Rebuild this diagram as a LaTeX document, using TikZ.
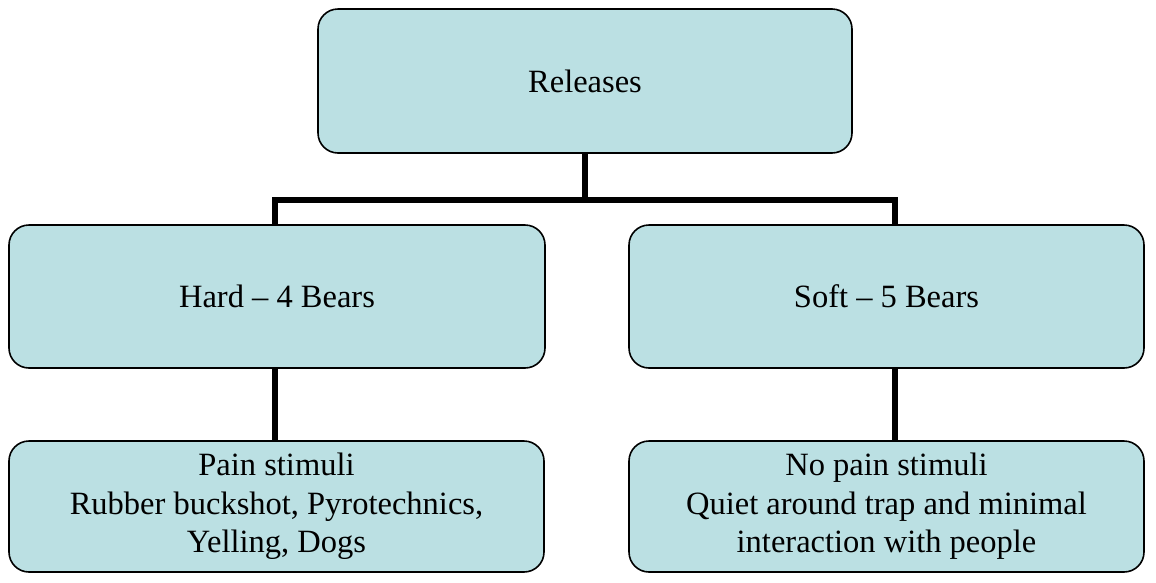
\documentclass[tikz,border=0pt]{standalone}
\usepackage{fontspec}
\setmainfont{Liberation Serif}
\definecolor{boxfill}{RGB}{187,224,227}
\begin{document}
\begin{tikzpicture}[x=1pt,y=-1pt,
  box/.style={draw=black, line width=1.6pt, fill=boxfill, rounded corners=20pt,
    inner sep=0pt, align=center, font=\fontsize{32.5}{38.5}\selectfont},
  conn/.style={draw=black, line width=5.5pt, line join=miter}]
\useasboundingbox (0,0) rectangle (1156,582);
\node[box, minimum width=534pt, minimum height=144pt] (top) at (585,81) {Releases};
\node[box, minimum width=536pt, minimum height=143pt] (hard) at (277,296.5) {Hard -- 4 Bears};
\node[box, minimum width=515pt, minimum height=143pt] (soft) at (886.5,296.5) {Soft -- 5 Bears};
\node[box, minimum width=535pt, minimum height=131pt] (pain) at (276.5,506.5) {Pain stimuli\\Rubber buckshot, Pyrotechnics,\\Yelling, Dogs};
\node[box, minimum width=515pt, minimum height=131pt] (nopain) at (886.5,506.5) {No pain stimuli\\Quiet around trap and minimal\\interaction with people};
\coordinate (jl) at (275,200);
\coordinate (jr) at (895,200);
\draw[conn] (top.south) -- (top.south |- jl);
\draw[conn] (jl |- hard.north) -- (jl) -- (jr) -- (jr |- soft.north);
\draw[conn] (jl |- hard.south) -- (jl |- pain.north);
\draw[conn] (jr |- soft.south) -- (jr |- nopain.north);
\end{tikzpicture}
\end{document}
